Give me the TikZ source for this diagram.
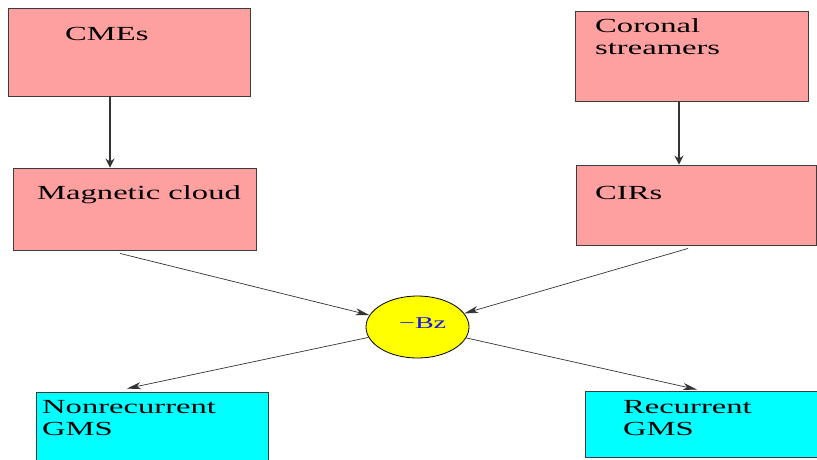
\documentclass[tikz,border=0pt]{standalone}
\usepackage{fontspec}
\setmainfont{Liberation Serif}
\newfontfamily\wideserif[FakeStretch=1.63]{Liberation Serif}
\newfontfamily\bzserif[FakeStretch=1.7]{Liberation Serif}
\usetikzlibrary{arrows.meta,shapes.geometric}
\definecolor{pinkfill}{RGB}{255,160,160}
\definecolor{cyanfill}{RGB}{0,255,255}
\definecolor{yellowfill}{RGB}{255,255,0}
\definecolor{edgegray}{RGB}{60,60,60}
\definecolor{bzblue}{RGB}{20,20,235}
\tikzset{
  pinkbox/.style={draw=edgegray, line width=0.9pt, fill=pinkfill, rectangle, inner sep=0pt},
  cyanbox/.style={draw=edgegray, line width=0.9pt, fill=cyanfill, rectangle, inner sep=0pt},
  boxtext/.style={anchor=base west, inner sep=0pt, font=\wideserif\fontsize{20}{23}\selectfont},
  varr/.style={draw=black!80, line width=1.1pt, -{Stealth[length=9pt,width=9pt,inset=3pt]}},
  darr/.style={draw=black!80, line width=0.7pt, -{Stealth[length=14pt,width=7pt,inset=4pt]}},
}
\begin{document}
\begin{tikzpicture}[x=1pt,y=-1pt]
\useasboundingbox (0,0) rectangle (817,459);
% boxes
\node[pinkbox, minimum width=242pt, minimum height=88pt] (cme) at (129,52) {};
\node[pinkbox, minimum width=233pt, minimum height=90pt] (cor) at (691.5,56) {};
\node[pinkbox, minimum width=243pt, minimum height=82pt] (mc) at (134.5,209) {};
\node[pinkbox, minimum width=240.5pt, minimum height=80pt] (cir) at (696.25,205) {};
\node[cyanbox, minimum width=232pt, minimum height=72pt] (nonrec) at (152,428) {};
\node[cyanbox, minimum width=235pt, minimum height=66pt] (rec) at (702.5,424) {};
\node[ellipse, draw=black, line width=0.8pt, fill=yellowfill, inner sep=0pt,
      minimum width=103pt, minimum height=62pt] (bz) at (417.5,327) {};
% texts
\node[boxtext] (tcme) at (65,40) {CMEs};
\node[boxtext] (tcor1) at (595,32) {Coronal};
\node[boxtext] (tcor2) at (595,54) {streamers};
\node[boxtext] (tmc) at (37,199) {Magnetic cloud};
\node[boxtext] (tcir) at (595,199) {CIRs};
\node[boxtext] (tnon1) at (42,413) {Nonrecurrent};
\node[boxtext] (tnon2) at (42,435) {GMS};
\node[boxtext] (trec1) at (623,413) {Recurrent};
\node[boxtext] (trec2) at (623,435) {GMS};
\node[anchor=base west, inner sep=0pt, text=bzblue, font=\bzserif\fontsize{16.5}{18}\selectfont] (tbz) at (399,328) {−Bz};
% connectors
\draw[varr] ([xshift=-19pt]cme.south) -- ([xshift=-24.5pt]mc.north);
\draw[varr] ([xshift=-12.5pt]cor.south) -- ([xshift=-17.25pt]cir.north);
\draw[darr] ([xshift=-14.5pt,yshift=-3pt]mc.south) -- (bz);
\draw[darr] ([xshift=-8.25pt,yshift=-3pt]cir.south) -- (bz);
\draw[darr] (bz) -- ([xshift=-25pt,yshift=3pt]nonrec.north);
\draw[darr] (bz) -- ([xshift=-5.5pt,yshift=1pt]rec.north);
\end{tikzpicture}
\end{document}
